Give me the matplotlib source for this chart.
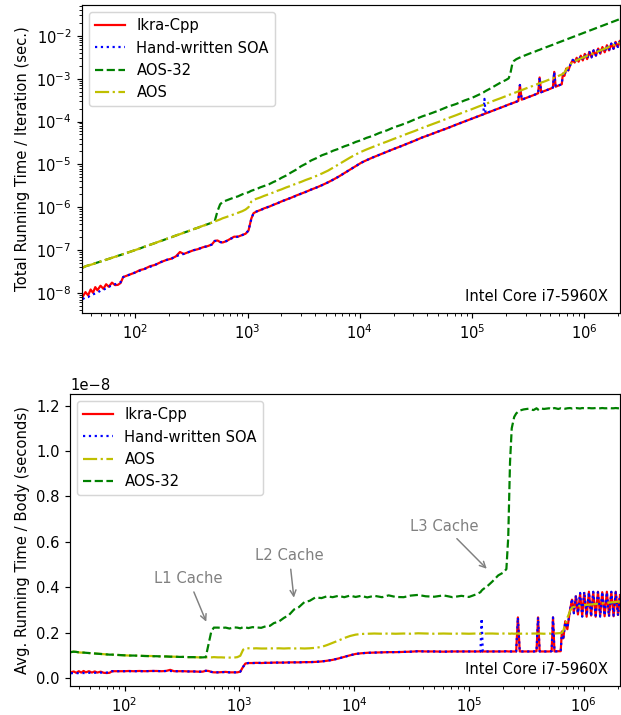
import numpy as np
import matplotlib
matplotlib.use("Agg")
import matplotlib.pyplot as plt

# ── Measurements (number of bodies / avg. time per body in units of 1e-8 s) ──
N_BODIES = [
    34, 36, 38, 40, 42, 44, 46, 49, 52, 55, 58, 62, 66, 70, 74, 78, 84, 90,
    100, 110, 120, 135, 150, 170, 190, 210, 230, 250, 270, 300, 330, 360, 400,
    440, 480, 510, 540, 570, 600, 650, 700, 760, 820, 900, 960, 1020, 1080,
    1130, 1200, 1300, 1400, 1550, 1700, 1850, 2000, 2200, 2450, 2700, 3000,
    3300, 3700, 4100, 4600, 5200, 5800, 6500, 7300, 8200, 9200, 10300, 11500,
    13000, 15000, 17500, 20000, 23000, 27000, 31000, 36000, 42000, 50000,
    60000, 72000, 86000, 100000, 115000, 126000, 129000, 132000, 145000,
    160000, 180000, 200000, 212000, 220000, 228000, 236000, 248000, 258000,
    267000, 277000, 300000, 330000, 365000, 388000, 400000, 413000, 450000,
    500000, 525000, 540000, 556000, 600000, 630000, 645000, 665000, 690000,
    720000, 760000, 790000, 820000, 855000, 890000, 930000, 970000, 1010000,
    1060000, 1110000, 1160000, 1210000, 1270000, 1330000, 1390000, 1450000,
    1520000, 1590000, 1660000, 1740000, 1820000, 1900000, 1990000, 2070000,
]

IKRA = [
    0.024, 0.029, 0.023, 0.030, 0.024, 0.031, 0.025, 0.030, 0.024, 0.029,
    0.024, 0.028, 0.023, 0.022, 0.023, 0.030, 0.030, 0.030, 0.030, 0.031,
    0.030, 0.031, 0.030, 0.031, 0.031, 0.030, 0.031, 0.036, 0.030, 0.030,
    0.030, 0.029, 0.029, 0.028, 0.028, 0.032, 0.031, 0.027, 0.025, 0.025,
    0.026, 0.027, 0.025, 0.025, 0.025, 0.028, 0.050, 0.064, 0.066, 0.066,
    0.067, 0.066, 0.067, 0.067, 0.068, 0.068, 0.068, 0.069, 0.069, 0.069,
    0.070, 0.070, 0.071, 0.073, 0.076, 0.080, 0.086, 0.093, 0.100, 0.106,
    0.109, 0.111, 0.112, 0.113, 0.114, 0.114, 0.115, 0.116, 0.118, 0.117,
    0.117, 0.116, 0.117, 0.117, 0.117, 0.117, 0.117, 0.117, 0.117, 0.117,
    0.117, 0.117, 0.117, 0.118, 0.117, 0.117, 0.117, 0.117, 0.117, 0.267,
    0.117, 0.117, 0.117, 0.117, 0.118, 0.267, 0.117, 0.117, 0.117, 0.118,
    0.267, 0.117, 0.118, 0.118, 0.205, 0.175, 0.250, 0.215, 0.300, 0.345,
    0.290, 0.360, 0.280, 0.370, 0.275, 0.375, 0.270, 0.380, 0.275, 0.378,
    0.270, 0.380, 0.275, 0.378, 0.272, 0.380, 0.275, 0.378, 0.272, 0.380,
    0.278, 0.365,
]

SOA = [
    0.021, 0.022, 0.021, 0.022, 0.022, 0.022, 0.022, 0.023, 0.023, 0.023,
    0.024, 0.024, 0.024, 0.024, 0.024, 0.030, 0.030, 0.030, 0.030, 0.030,
    0.030, 0.030, 0.030, 0.031, 0.031, 0.030, 0.031, 0.031, 0.030, 0.030,
    0.030, 0.029, 0.029, 0.028, 0.028, 0.032, 0.030, 0.027, 0.025, 0.025,
    0.026, 0.026, 0.025, 0.025, 0.025, 0.028, 0.049, 0.064, 0.066, 0.066,
    0.066, 0.067, 0.067, 0.067, 0.068, 0.068, 0.068, 0.068, 0.069, 0.069,
    0.070, 0.070, 0.071, 0.073, 0.076, 0.080, 0.086, 0.093, 0.100, 0.106,
    0.109, 0.111, 0.112, 0.113, 0.114, 0.114, 0.115, 0.116, 0.118, 0.117,
    0.117, 0.116, 0.117, 0.117, 0.117, 0.117, 0.117, 0.262, 0.117, 0.117,
    0.117, 0.117, 0.117, 0.118, 0.117, 0.117, 0.117, 0.117, 0.117, 0.267,
    0.117, 0.117, 0.117, 0.117, 0.118, 0.267, 0.117, 0.117, 0.117, 0.118,
    0.267, 0.117, 0.118, 0.118, 0.200, 0.178, 0.245, 0.220, 0.300, 0.350,
    0.285, 0.365, 0.285, 0.375, 0.270, 0.380, 0.275, 0.378, 0.270, 0.380,
    0.275, 0.378, 0.270, 0.380, 0.275, 0.378, 0.270, 0.380, 0.275, 0.378,
    0.275, 0.370,
]

AOS = [
    0.114, 0.116, 0.115, 0.113, 0.112, 0.112, 0.111, 0.110, 0.109, 0.108,
    0.107, 0.106, 0.105, 0.104, 0.103, 0.103, 0.102, 0.101, 0.100, 0.099,
    0.099, 0.098, 0.097, 0.097, 0.096, 0.095, 0.095, 0.094, 0.094, 0.093,
    0.093, 0.092, 0.092, 0.091, 0.091, 0.091, 0.091, 0.091, 0.092, 0.091,
    0.091, 0.090, 0.090, 0.090, 0.092, 0.098, 0.125, 0.131, 0.131, 0.130,
    0.131, 0.130, 0.130, 0.131, 0.130, 0.131, 0.130, 0.131, 0.130, 0.131,
    0.130, 0.131, 0.133, 0.137, 0.145, 0.155, 0.165, 0.176, 0.185, 0.191,
    0.194, 0.195, 0.196, 0.195, 0.196, 0.195, 0.196, 0.195, 0.197, 0.196,
    0.195, 0.196, 0.195, 0.196, 0.195, 0.196, 0.195, 0.196, 0.195, 0.196,
    0.196, 0.195, 0.196, 0.196, 0.196, 0.195, 0.196, 0.195, 0.196, 0.196,
    0.195, 0.196, 0.195, 0.196, 0.196, 0.195, 0.196, 0.195, 0.196, 0.195,
    0.196, 0.196, 0.197, 0.198, 0.199, 0.210, 0.235, 0.265, 0.295, 0.310,
    0.313, 0.315, 0.317, 0.318, 0.320, 0.321, 0.322, 0.323, 0.324, 0.325,
    0.326, 0.327, 0.328, 0.329, 0.330, 0.331, 0.332, 0.333, 0.334, 0.335,
    0.336, 0.337,
]

AOS_32 = [
    0.114, 0.116, 0.115, 0.113, 0.112, 0.112, 0.111, 0.110, 0.109, 0.108,
    0.107, 0.106, 0.105, 0.104, 0.103, 0.103, 0.102, 0.101, 0.100, 0.099,
    0.099, 0.098, 0.097, 0.096, 0.096, 0.095, 0.095, 0.094, 0.094, 0.093,
    0.093, 0.092, 0.092, 0.091, 0.091, 0.092, 0.150, 0.205, 0.222, 0.222,
    0.221, 0.222, 0.218, 0.223, 0.222, 0.219, 0.224, 0.223, 0.220, 0.224,
    0.223, 0.221, 0.228, 0.230, 0.242, 0.248, 0.265, 0.277, 0.302, 0.312,
    0.335, 0.340, 0.355, 0.352, 0.360, 0.356, 0.362, 0.356, 0.363, 0.357,
    0.362, 0.355, 0.362, 0.356, 0.364, 0.357, 0.356, 0.363, 0.366, 0.360,
    0.358, 0.364, 0.356, 0.362, 0.357, 0.368, 0.378, 0.385, 0.390, 0.405,
    0.425, 0.452, 0.465, 0.480, 0.620, 0.950, 1.100, 1.150, 1.165, 1.172,
    1.178, 1.183, 1.186, 1.180, 1.188, 1.182, 1.188, 1.185, 1.188, 1.183,
    1.187, 1.189, 1.185, 1.188, 1.187, 1.189, 1.186, 1.188, 1.189, 1.187,
    1.188, 1.189, 1.188, 1.187, 1.189, 1.188, 1.188, 1.189, 1.188, 1.188,
    1.189, 1.188, 1.188, 1.189, 1.188, 1.188, 1.189, 1.188, 1.188, 1.189,
    1.188, 1.188,
]

UNIT = 1e-8          # per-body values above are in units of 1e-8 seconds
CPU_NAME = "Intel Core i7-5960X"
DPI = 106


def main():
    n = np.array(N_BODIES, dtype=float)
    per_body = {
        "Ikra-Cpp":          np.array(IKRA) * UNIT,
        "Hand-written SOA":  np.array(SOA) * UNIT,
        "AOS":               np.array(AOS) * UNIT,
        "AOS-32":            np.array(AOS_32) * UNIT,
    }
    styles = {
        "Ikra-Cpp":         "r-",
        "Hand-written SOA": "b:",
        "AOS":              "y-.",
        "AOS-32":           "g--",
    }

    fig = plt.figure(figsize=(621 / DPI, 715 / DPI), dpi=DPI)
    ax1 = fig.add_axes([0.132, 0.5622, 0.866, 0.4308])
    ax2 = fig.add_axes([0.1127, 0.0406, 0.8857, 0.4084])

    # ── Top: total running time per iteration ──
    for name in ["Ikra-Cpp", "Hand-written SOA", "AOS-32", "AOS"]:
        ax1.plot(n, per_body[name] * n, styles[name], label=name)
    ax1.set_xscale("log"); ax1.set_yscale("log")
    ax1.set_xlim(33.5, 2.07e6)
    ax1.set_ylim(10 ** -8.47, 10 ** -1.28)
    ax1.set_ylabel("Total Running Time / Iteration (sec.)")
    ax1.legend(loc="upper left")
    ax1.text(0.978, 0.03, CPU_NAME, transform=ax1.transAxes, ha="right", va="bottom")

    # ── Bottom: average running time per body ──
    for name in ["Ikra-Cpp", "Hand-written SOA", "AOS", "AOS-32"]:
        ax2.plot(n, per_body[name], styles[name], label=name)
    ax2.set_xscale("log")
    ax2.set_xlim(33.5, 2.07e6)
    ax2.set_ylim(-0.035e-8, 1.251e-8)
    ax2.set_ylabel("Avg. Running Time / Body (seconds)")
    ax2.legend(loc="upper left")
    ax2.text(0.978, 0.03, CPU_NAME, transform=ax2.transAxes, ha="right", va="bottom")

    arrow = dict(arrowstyle="->", color="gray")
    ax2.annotate("L1 Cache", xy=(527, 0.236e-8), xytext=(360, 0.437e-8),
                 ha="center", va="center", color="gray", arrowprops=arrow)
    ax2.annotate("L2 Cache", xy=(3006, 0.341e-8), xytext=(2723, 0.538e-8),
                 ha="center", va="center", color="gray", arrowprops=arrow)
    ax2.annotate("L3 Cache", xy=(1.49e5, 0.472e-8), xytext=(6.12e4, 0.669e-8),
                 ha="center", va="center", color="gray", arrowprops=arrow)

    fig.savefig("out.png", dpi=DPI)
    plt.close(fig)


if __name__ == "__main__":
    main()
